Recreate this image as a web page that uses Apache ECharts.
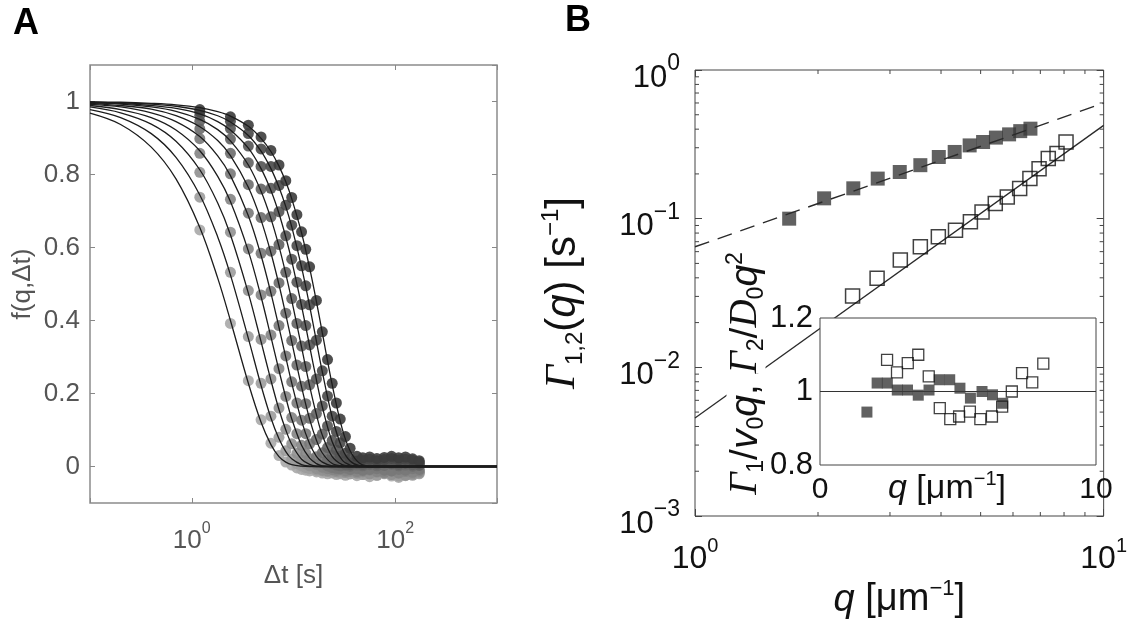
<!DOCTYPE html>
<html><head><meta charset="utf-8">
<script src="https://cdn.jsdelivr.net/npm/echarts@6/dist/echarts.min.js"></script>
<style>html,body{margin:0;padding:0;background:#fff}#c{width:1130px;height:624px}</style>
</head><body><div id="c"></div>
<script>
// ---------- Panel A: f(q, Δt) ----------
const lagFit = [0.1, 0.2, 0.4, 0.7, 1.2, 1.8, 2.4, 3.6, 4.8, 6, 7.2, 8.4, 9.6, 12, 14.4, 16.8, 19.2, 24, 30, 36, 45, 60, 80, 1000];
const fit1  = [0.968,0.937,0.875,0.788,0.655,0.516,0.400,0.228,0.121,0.060,0.027,0.012,0.005,0.001,0,0,0,0,0,0,0,0,0,0];
const fit2  = [0.978,0.956,0.912,0.847,0.744,0.629,0.525,0.351,0.222,0.133,0.076,0.041,0.021,0.005,0.001,0,0,0,0,0,0,0,0,0];
const fit3  = [0.985,0.969,0.938,0.891,0.813,0.722,0.635,0.475,0.342,0.236,0.156,0.100,0.061,0.020,0.006,0.001,0,0,0,0,0,0,0,0];
const fit4  = [0.989,0.978,0.956,0.922,0.865,0.795,0.726,0.590,0.465,0.355,0.263,0.189,0.131,0.058,0.023,0.008,0.002,0,0,0,0,0,0,0];
const fit5  = [0.992,0.985,0.969,0.945,0.904,0.851,0.797,0.687,0.578,0.475,0.381,0.299,0.229,0.125,0.062,0.028,0.012,0.002,0,0,0,0,0,0];
const fit6  = [0.995,0.989,0.979,0.961,0.931,0.893,0.852,0.765,0.675,0.585,0.498,0.416,0.342,0.218,0.130,0.072,0.037,0.008,0.001,0,0,0,0,0];
const fit7  = [0.996,0.993,0.985,0.973,0.951,0.923,0.892,0.826,0.754,0.679,0.603,0.528,0.456,0.327,0.221,0.142,0.086,0.027,0.005,0.001,0,0,0,0];
const fit8  = [0.998,0.995,0.989,0.981,0.966,0.945,0.922,0.872,0.816,0.756,0.693,0.628,0.564,0.440,0.330,0.237,0.163,0.068,0.018,0.004,0,0,0,0];
const fit9  = [0.998,0.996,0.993,0.987,0.976,0.961,0.944,0.907,0.864,0.816,0.765,0.712,0.657,0.546,0.440,0.343,0.259,0.135,0.050,0.015,0.002,0,0,0];
const fit10 = [0.999,0.998,0.995,0.991,0.983,0.972,0.960,0.932,0.899,0.863,0.823,0.780,0.734,0.640,0.544,0.452,0.366,0.224,0.105,0.043,0.008,0,0,0];

const lagData = [1.2, 2.4, 3.6, 4.8, 6, 7.2, 8.4, 9.6, 10.8, 12, 13.2, 14.4, 16.8, 19.2, 21.6, 24, 26.4, 28.8, 32.4, 36, 42, 48, 56, 66, 78, 92, 108, 126, 148, 172];
const dat1  = [0.648,0.392,0.235,0.128,0.064,0.030,0.012,0.004,-0.004,-0.008,-0.010,-0.012,-0.015,-0.018,-0.020,-0.018,-0.022,-0.020,-0.024,-0.020,-0.025,-0.022,-0.028,-0.024,-0.020,-0.026,-0.030,-0.025,-0.022,-0.018];
const dat2  = [0.738,0.532,0.356,0.228,0.138,0.080,0.043,0.020,0.008,0.002,-0.003,-0.006,-0.010,-0.012,-0.014,-0.016,-0.015,-0.018,-0.016,-0.020,-0.018,-0.022,-0.020,-0.024,-0.018,-0.022,-0.026,-0.020,-0.024,-0.020];
const dat3  = [0.806,0.642,0.482,0.348,0.240,0.160,0.102,0.062,0.036,0.018,0.008,0.002,-0.006,-0.010,-0.012,-0.010,-0.014,-0.012,-0.016,-0.014,-0.018,-0.015,-0.020,-0.016,-0.018,-0.022,-0.018,-0.024,-0.020,-0.016];
const dat4  = [0.858,0.732,0.596,0.470,0.360,0.268,0.192,0.134,0.090,0.058,0.036,0.021,0.006,-0.002,-0.006,-0.008,-0.010,-0.008,-0.012,-0.010,-0.014,-0.012,-0.010,-0.014,-0.016,-0.012,-0.018,-0.014,-0.016,-0.012];
const dat5  = [0.898,0.802,0.694,0.584,0.480,0.386,0.303,0.232,0.174,0.127,0.090,0.062,0.027,0.010,0.002,-0.003,-0.005,-0.006,-0.004,-0.008,-0.006,-0.010,-0.008,-0.006,-0.010,-0.012,-0.008,-0.010,-0.006,-0.008];
const dat6  = [0.925,0.858,0.772,0.682,0.590,0.503,0.420,0.345,0.278,0.220,0.172,0.132,0.074,0.038,0.018,0.008,0.004,0.002,0.003,0.001,0.004,0.002,0.005,0.002,0.003,0.006,0.002,0.004,0.001,0.003];
const dat7  = [0.946,0.897,0.832,0.760,0.684,0.608,0.532,0.460,0.392,0.330,0.274,0.224,0.145,0.089,0.052,0.030,0.017,0.010,0.006,0.005,0.008,0.006,0.009,0.007,0.010,0.008,0.006,0.009,0.005,0.004];
const dat8  = [0.962,0.926,0.878,0.822,0.762,0.698,0.632,0.568,0.505,0.444,0.386,0.333,0.240,0.166,0.111,0.071,0.045,0.028,0.015,0.010,0.012,0.014,0.011,0.015,0.012,0.016,0.013,0.010,0.014,0.009];
const dat9  = [0.972,0.946,0.912,0.870,0.822,0.770,0.716,0.661,0.605,0.550,0.495,0.443,0.346,0.262,0.193,0.138,0.096,0.065,0.036,0.021,0.015,0.018,0.020,0.016,0.019,0.022,0.018,0.020,0.017,0.012];
const dat10 = [0.978,0.958,0.935,0.903,0.866,0.826,0.783,0.737,0.690,0.643,0.595,0.547,0.455,0.369,0.293,0.228,0.174,0.130,0.082,0.050,0.028,0.024,0.026,0.022,0.025,0.028,0.024,0.026,0.021,0.016];

// ---------- Panel B: Γ1,2(q) ----------
const qFilled = [1.70, 2.07, 2.44, 2.80, 3.17, 3.56, 3.95, 4.32, 4.70, 5.07, 5.45, 5.87, 6.25, 6.62];
const gamma1  = [0.100, 0.137, 0.160, 0.186, 0.206, 0.229, 0.260, 0.281, 0.311, 0.328, 0.351, 0.369, 0.388, 0.403];
const qOpen   = [2.43, 2.79, 3.18, 3.56, 3.94, 4.34, 4.72, 5.04, 5.43, 5.81, 6.23, 6.60, 6.95, 7.32, 7.69, 8.09];
const gamma2  = [0.0302, 0.0397, 0.0527, 0.0647, 0.0755, 0.0837, 0.0952, 0.111, 0.1265, 0.140, 0.1595, 0.186, 0.217, 0.2535, 0.274, 0.328];
const qFitEnds  = [1, 10];
const gamma1Fit = [0.0647, 0.599];
const gamma2Fit = [0.00456, 0.424];
// inset: normalised rates
const ratio1 = [0.944, 1.023, 1.023, 1.004, 1.004, 0.990, 1.004, 1.032, 1.032, 1.009, 0.982, 1.000, 0.991, 0.968];
const ratio2 = [1.086, 1.052, 1.077, 1.100, 1.041, 0.955, 0.925, 0.932, 0.945, 0.925, 0.932, 0.959, 1.000, 1.050, 1.025, 1.076];
const insetRefX = [0, 10];
const insetRefY = [1, 1];

// ---------- styles ----------
const fitsA = [fit1, fit2, fit3, fit4, fit5, fit6, fit7, fit8, fit9, fit10];
const datsA = [dat1, dat2, dat3, dat4, dat5, dat6, dat7, dat8, dat9, dat10];
const dotColors = ['#a8a8a8','#9c9c9c','#909090','#848484','#787878','#6c6c6c','#606060','#545454','#484848','#3c3c3c'];
const SANS = 'Liberation Sans';
const SERIF = 'Liberation Serif';
const greyA = '#555';

function supLabel(fs, sfs, color, padTop) {
  return {
    b: {fontSize: fs, fontFamily: SANS, color: color, lineHeight: fs + 4, padding: [padTop, 0, 0, 0]},
    s: {fontSize: sfs, fontFamily: SANS, color: color, lineHeight: sfs + 2, verticalAlign: 'top'}
  };
}
function powFmt(v) {
  const e = Math.round(Math.log10(v));
  return '{b|10}{s|' + (e < 0 ? '\u2212' + (-e) : String(e)) + '}';
}

const series = [];
datsA.forEach((d, i) => {
  series.push({
    type: 'scatter', xAxisIndex: 0, yAxisIndex: 0, silent: true, z: 2,
    data: lagData.map((t, j) => [t, d[j]]),
    symbolSize: 11, itemStyle: {color: dotColors[i], opacity: 0.9}
  });
});
fitsA.forEach((f) => {
  series.push({
    type: 'line', xAxisIndex: 0, yAxisIndex: 0, silent: true, z: 4,
    data: lagFit.map((t, j) => [t, f[j]]),
    showSymbol: false, symbol: 'none', smooth: 0.35,
    lineStyle: {color: '#1c1c1c', width: 1.3}
  });
});

// minor log ticks for panel B
const yMinor = [];
for (let e = -3; e < 0; e++) for (let m = 2; m <= 9; m++) yMinor.push([1, m * Math.pow(10, e)]);
const xMinor = [];
for (let m = 2; m <= 9; m++) xMinor.push([m, 0.001]);
const tickStyle = {stroke: '#444', lineWidth: 1};
series.push({
  type: 'custom', xAxisIndex: 2, yAxisIndex: 2, silent: true, z: 3, clip: false,
  data: yMinor,
  renderItem: (p, api) => {
    const v = api.value(1);
    const a = api.coord([1, v]), b = api.coord([10, v]);
    return {type: 'group', children: [
      {type: 'line', shape: {x1: a[0], y1: a[1], x2: a[0] + 4, y2: a[1]}, style: tickStyle},
      {type: 'line', shape: {x1: b[0] - 4, y1: b[1], x2: b[0], y2: b[1]}, style: tickStyle}
    ]};
  }
});
series.push({
  type: 'custom', xAxisIndex: 2, yAxisIndex: 2, silent: true, z: 3, clip: false,
  data: xMinor,
  renderItem: (p, api) => {
    const v = api.value(0);
    const a = api.coord([v, 0.001]), b = api.coord([v, 1]);
    return {type: 'group', children: [
      {type: 'line', shape: {x1: a[0], y1: a[1], x2: a[0], y2: a[1] - 4}, style: tickStyle},
      {type: 'line', shape: {x1: b[0], y1: b[1], x2: b[0], y2: b[1] + 4}, style: tickStyle}
    ]};
  }
});
// panel B data and fits
series.push({
  type: 'scatter', xAxisIndex: 2, yAxisIndex: 2, silent: true, z: 3,
  data: qFilled.map((q, i) => [q, gamma1[i]]),
  symbol: 'rect', symbolSize: 14, itemStyle: {color: '#3a3a3a'}
});
series.push({
  type: 'line', xAxisIndex: 2, yAxisIndex: 2, silent: true, z: 4,
  data: qFitEnds.map((q, i) => [q, gamma1Fit[i]]),
  symbol: 'none', lineStyle: {color: '#2a2a2a', width: 1.4, type: [15, 9]}
});
series.push({
  type: 'line', xAxisIndex: 2, yAxisIndex: 2, silent: true, z: 3,
  data: qFitEnds.map((q, i) => [q, gamma2Fit[i]]),
  symbol: 'none', lineStyle: {color: '#2a2a2a', width: 1.3}
});
series.push({
  type: 'scatter', xAxisIndex: 2, yAxisIndex: 2, silent: true, z: 4,
  data: qOpen.map((q, i) => [q, gamma2[i]]),
  symbol: 'rect', symbolSize: 14,
  itemStyle: {color: 'rgba(255,255,255,0)', borderColor: '#111', borderWidth: 1.5}
});
// inset
series.push({
  type: 'line', xAxisIndex: 4, yAxisIndex: 4, silent: true, z: 12,
  data: insetRefX.map((x, i) => [x, insetRefY[i]]),
  symbol: 'none', lineStyle: {color: '#333', width: 1.2}
});
series.push({
  type: 'scatter', xAxisIndex: 4, yAxisIndex: 4, silent: true, z: 13,
  data: qFilled.map((q, i) => [q, ratio1[i]]),
  symbol: 'rect', symbolSize: 11, itemStyle: {color: '#3a3a3a'}
});
series.push({
  type: 'scatter', xAxisIndex: 4, yAxisIndex: 4, silent: true, z: 13,
  data: qOpen.map((q, i) => [q, ratio2[i]]),
  symbol: 'rect', symbolSize: 11,
  itemStyle: {color: 'rgba(255,255,255,0)', borderColor: '#111', borderWidth: 1.3}
});

const noLine = {show: false, onZero: false};
const noSplit = {show: false};

const option = {
  animation: false,
  backgroundColor: '#fff',
  title: [
    {text: 'A', left: 8, top: 1, textStyle: {fontSize: 36, fontWeight: 'bold', fontFamily: SANS, color: '#000'}},
    {text: 'B', left: 560, top: -2, textStyle: {fontSize: 36, fontWeight: 'bold', fontFamily: SANS, color: '#000'}}
  ],
  grid: [
    {left: 90, top: 65, width: 407, height: 438, show: true, borderColor: '#8c8c8c', borderWidth: 1.5, backgroundColor: 'transparent'},
    {left: 695, top: 70, width: 416, height: 447, show: true, borderColor: '#444', borderWidth: 1, backgroundColor: 'transparent'},
    {left: 820, top: 318, width: 276, height: 147, show: true, borderColor: '#444', borderWidth: 1, backgroundColor: '#fff', z: 10}
  ],
  xAxis: [
    {gridIndex: 0, type: 'log', logBase: 100, min: 0.1, max: 1000, position: 'bottom',
      axisLine: noLine, splitLine: noSplit,
      axisTick: {inside: true, length: 5, lineStyle: {color: '#888'}},
      axisLabel: {margin: 18, formatter: v => {
          const e = Math.log10(v);
          if (Math.abs(e - Math.round(e)) > 1e-6 || Math.round(e) % 2 !== 0) return '';
          return powFmt(v);
        }, rich: supLabel(26, 16, greyA, 10)},
      name: '\u0394t [s]', nameLocation: 'middle', nameGap: 60, nameMoveOverlap: false,
      nameTextStyle: {fontSize: 26, fontFamily: SANS, color: greyA, verticalAlign: 'top'}},
    {gridIndex: 0, type: 'log', logBase: 100, min: 0.1, max: 1000, position: 'top',
      axisLine: noLine, splitLine: noSplit, axisLabel: {show: false},
      axisTick: {inside: true, length: 5, lineStyle: {color: '#888'}}},
    {gridIndex: 1, type: 'log', logBase: 10, min: 1, max: 10, position: 'bottom',
      axisLine: noLine, splitLine: noSplit,
      axisTick: {inside: true, length: 7, lineStyle: {color: '#444'}},
      axisLabel: {margin: 20, formatter: powFmt, rich: supLabel(32, 20, '#111', 10)},
      name: '{qi|q}{n| [\u03bcm}{s|\u22121}{n|]}', nameLocation: 'middle', nameGap: 62, nameMoveOverlap: false,
      nameTextStyle: {verticalAlign: 'top', rich: {
        qi: {fontSize: 38, fontFamily: SANS, fontStyle: 'italic', color: '#111', lineHeight: 44},
        n: {fontSize: 38, fontFamily: SANS, color: '#111', lineHeight: 44},
        s: {fontSize: 22, fontFamily: SANS, color: '#111', lineHeight: 22, verticalAlign: 'top'}
      }}},
    {gridIndex: 1, type: 'log', logBase: 10, min: 1, max: 10, position: 'top',
      axisLine: noLine, splitLine: noSplit, axisLabel: {show: false},
      axisTick: {inside: true, length: 7, lineStyle: {color: '#444'}}},
    {gridIndex: 2, type: 'value', min: 0, max: 10, interval: 10, position: 'bottom', z: 11,
      axisLine: noLine, splitLine: noSplit, axisTick: {show: false},
      axisLabel: {margin: 10, fontSize: 30, fontFamily: SANS, color: '#111'},
      name: '{qi|q}{n| [\u03bcm}{s|\u22121}{n|]}', nameLocation: 'middle', nameGap: 4, nameMoveOverlap: false,
      nameTextStyle: {verticalAlign: 'top', padding: [0, 22, 0, 0], rich: {
        qi: {fontSize: 34, fontFamily: SANS, fontStyle: 'italic', color: '#111', lineHeight: 40},
        n: {fontSize: 34, fontFamily: SANS, color: '#111', lineHeight: 40},
        s: {fontSize: 20, fontFamily: SANS, color: '#111', lineHeight: 20, verticalAlign: 'top'}
      }}}
  ],
  yAxis: [
    {gridIndex: 0, type: 'value', min: -0.1, max: 1.1, position: 'left',
      axisLine: noLine, splitLine: noSplit,
      axisTick: {inside: true, length: 5, lineStyle: {color: '#888'}},
      axisLabel: {margin: 10, fontSize: 26, fontFamily: SANS, color: greyA, showMinLabel: false, showMaxLabel: false},
      name: 'f(q,\u0394t)', nameLocation: 'middle', nameRotate: 90, nameGap: 54, nameMoveOverlap: false,
      nameTextStyle: {fontSize: 26, fontFamily: SANS, color: greyA}},
    {gridIndex: 0, type: 'value', min: -0.1, max: 1.1, position: 'right',
      axisLine: noLine, splitLine: noSplit, axisLabel: {show: false},
      axisTick: {inside: true, length: 5, lineStyle: {color: '#888'}}},
    {gridIndex: 1, type: 'log', logBase: 10, min: 0.001, max: 1, position: 'left',
      axisLine: noLine, splitLine: noSplit,
      axisTick: {inside: true, length: 7, lineStyle: {color: '#444'}},
      axisLabel: {margin: 15, formatter: powFmt, rich: supLabel(31, 23, '#111', 16)},
      name: '{gi|\u0393}{sub|1,2}{n|(}{qi|q}{n|) [s}{sup|\u22121}{n|]}',
      nameLocation: 'middle', nameRotate: 90, nameGap: 108, nameMoveOverlap: false,
      nameTextStyle: {rich: {
        gi: {fontSize: 42, fontFamily: SERIF, fontStyle: 'italic', color: '#111', lineHeight: 48},
        qi: {fontSize: 42, fontFamily: SANS, fontStyle: 'italic', color: '#111', lineHeight: 48},
        n: {fontSize: 42, fontFamily: SANS, color: '#111', lineHeight: 48},
        sub: {fontSize: 24, fontFamily: SANS, color: '#111', lineHeight: 24, verticalAlign: 'bottom'},
        sup: {fontSize: 24, fontFamily: SANS, color: '#111', lineHeight: 24, verticalAlign: 'top'}
      }}},
    {gridIndex: 1, type: 'log', logBase: 10, min: 0.001, max: 1, position: 'right',
      axisLine: noLine, splitLine: noSplit, axisLabel: {show: false},
      axisTick: {inside: true, length: 7, lineStyle: {color: '#444'}}},
    {gridIndex: 2, type: 'value', min: 0.8, max: 1.2, interval: 0.2, position: 'left', z: 11,
      axisLine: noLine, splitLine: noSplit, axisTick: {show: false},
      axisLabel: {margin: 7, fontSize: 31, fontFamily: SANS, color: '#111'},
      name: '{gi|\u0393}{sub|1}{n|/}{qi|v}{sub|0}{qi|q}{n|, }{gi|\u0393}{sub|2}{n|/}{gi|D}{sub|0}{qi|q}{sup|2}',
      nameLocation: 'middle', nameRotate: 90, nameGap: 52, nameMoveOverlap: false,
      nameTextStyle: {padding: [0, 0, 0, 36], rich: {
        gi: {fontSize: 39, fontFamily: SERIF, fontStyle: 'italic', color: '#111', lineHeight: 44, backgroundColor: '#fff'},
        qi: {fontSize: 39, fontFamily: SANS, fontStyle: 'italic', color: '#111', lineHeight: 44, backgroundColor: '#fff'},
        n: {fontSize: 39, fontFamily: SANS, color: '#111', lineHeight: 44, backgroundColor: '#fff'},
        sub: {fontSize: 23, fontFamily: SANS, color: '#111', lineHeight: 23, verticalAlign: 'bottom', backgroundColor: '#fff'},
        sup: {fontSize: 23, fontFamily: SANS, color: '#111', lineHeight: 23, verticalAlign: 'top', backgroundColor: '#fff'}
      }}}
  ],
  series: series
};
const chart = echarts.init(document.getElementById('c'), null, {renderer: 'canvas'});
chart.setOption(option);
</script></body></html>
